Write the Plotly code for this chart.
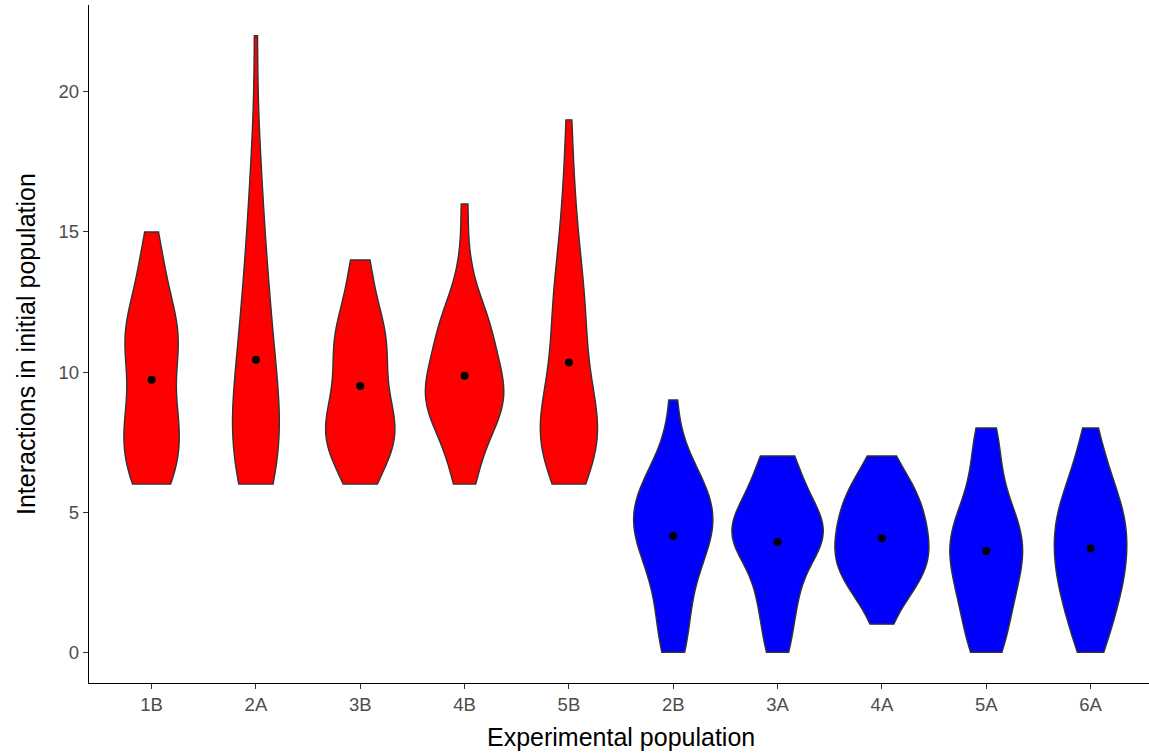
import numpy as np
import plotly.graph_objects as go

# Experimental populations (x categories)
GROUPS = ["1B", "2A", "3B", "4B", "5B", "2B", "3A", "4A", "5A", "6A"]
TREATMENT = ["red", "red", "red", "red", "red", "blue", "blue", "blue", "blue", "blue"]

# Observed interaction counts per population: value -> frequency
VALUES_1B = [6, 7, 8, 9, 10, 11, 12, 13, 14, 15]
COUNTS_1B = [4, 4, 5, 3, 3, 5, 4, 2, 2, 1]
VALUES_2A = [6, 7, 8, 9, 10, 11, 12, 13, 14, 15, 16, 17, 18, 22]
COUNTS_2A = [4, 5, 5, 3, 3, 3, 2, 2, 2, 1, 1, 1, 1, 1]
VALUES_3B = [6, 7, 8, 9, 10, 11, 12, 13, 14]
COUNTS_3B = [2, 4, 6, 3, 3, 4, 3, 1, 2]
VALUES_4B = [6, 7, 8, 9, 10, 11, 12, 13, 14, 16]
COUNTS_4B = [2, 2, 4, 7, 5, 4, 4, 1, 1, 1]
VALUES_5B = [6, 7, 8, 9, 10, 11, 12, 13, 14, 15, 16, 17, 19]
COUNTS_5B = [2, 5, 6, 3, 3, 2, 3, 2, 2, 1, 1, 1, 1]
VALUES_2B = [0, 1, 2, 3, 4, 5, 6, 7, 9]
COUNTS_2B = [2, 2, 2, 3, 5, 6, 4, 2, 1]
VALUES_3A = [0, 1, 2, 3, 4, 5, 6, 7]
COUNTS_3A = [2, 2, 3, 3, 8, 6, 3, 3]
VALUES_4A = [1, 2, 3, 4, 5, 6, 7]
COUNTS_4A = [1, 3, 8, 6, 6, 5, 1]
VALUES_5A = [0, 1, 2, 3, 4, 5, 6, 7, 8]
COUNTS_5A = [3, 3, 4, 5, 6, 4, 2, 2, 2]
VALUES_6A = [0, 1, 2, 3, 4, 5, 6, 7, 8]
COUNTS_6A = [2, 3, 4, 5, 5, 5, 3, 2, 1]

DATA = {
    "1B": (VALUES_1B, COUNTS_1B), "2A": (VALUES_2A, COUNTS_2A),
    "3B": (VALUES_3B, COUNTS_3B), "4B": (VALUES_4B, COUNTS_4B),
    "5B": (VALUES_5B, COUNTS_5B), "2B": (VALUES_2B, COUNTS_2B),
    "3A": (VALUES_3A, COUNTS_3A), "4A": (VALUES_4A, COUNTS_4A),
    "5A": (VALUES_5A, COUNTS_5A), "6A": (VALUES_6A, COUNTS_6A),
}

# kernel bandwidths (smoothing style) per violin
BANDWIDTH = {"1B": 1.1, "2A": 2.0, "3B": 1.05, "4B": 1.0, "5B": 1.4,
             "2B": 1.1, "3A": 0.9, "4A": 1.0, "5A": 1.0, "6A": 1.0}

FILL = {"red": "#FF0000", "blue": "#0000FF"}

fig = go.Figure()
means = []
for g, t in zip(GROUPS, TREATMENT):
    vals, cnts = DATA[g]
    y = np.repeat(np.array(vals, dtype=float), cnts)
    means.append(float(np.mean(y)))
    fig.add_trace(go.Violin(
        x=[g] * len(y), y=y, name=g,
        fillcolor=FILL[t], opacity=1,
        line=dict(color="#333333", width=1.4),
        points=False, box_visible=False, meanline_visible=False,
        spanmode="hard", bandwidth=BANDWIDTH[g],
        scalegroup="all", scalemode="width",
        hoverinfo="skip", showlegend=False,
    ))

fig.add_trace(go.Scatter(
    x=GROUPS, y=means, mode="markers",
    marker=dict(color="black", size=8),
    showlegend=False, hoverinfo="skip",
))

W, H = 1149, 754
ML, MR, MT, MB = 89, 0, 5, 71
pw = W - ML - MR
ph = H - MT - MB

fig.update_layout(
    width=W, height=H,
    margin=dict(l=ML, r=MR, t=MT, b=MB),
    paper_bgcolor="white", plot_bgcolor="white",
    violinmode="overlay", violingap=0.1, violingroupgap=0,
    font=dict(family="Liberation Sans, Arial, sans-serif"),
    showlegend=False,
    xaxis=dict(
        type="category", categoryorder="array", categoryarray=GROUPS,
        range=[-0.6, -0.6 + pw / 104.33],
        showline=True, linecolor="black", linewidth=1.3,
        ticks="outside", ticklen=5, tickwidth=1.2, tickcolor="#333333",
        tickfont=dict(size=18.5, color="#4D4D4D"),
        showgrid=False, zeroline=False,
    ),
    yaxis=dict(
        range=[-1.1, 23.1],
        tickvals=[0, 5, 10, 15, 20],
        showline=True, linecolor="black", linewidth=1.3,
        ticks="outside", ticklen=5, tickwidth=1.2, tickcolor="#333333",
        tickfont=dict(size=18.5, color="#4D4D4D"),
        showgrid=False, zeroline=False,
    ),
    annotations=[
        dict(text="Experimental population", xref="paper", yref="paper",
             x=(621 - ML) / pw, y=(H - MB - 737) / ph, xanchor="center", yanchor="middle",
             showarrow=False, font=dict(size=25, color="black")),
        dict(text="Interactions in initial population", xref="paper", yref="paper",
             x=(26 - ML) / pw, y=0.5, xanchor="center", yanchor="middle", textangle=-90,
             showarrow=False, font=dict(size=25, color="black")),
    ],
)

fig.write_html("out.html")
